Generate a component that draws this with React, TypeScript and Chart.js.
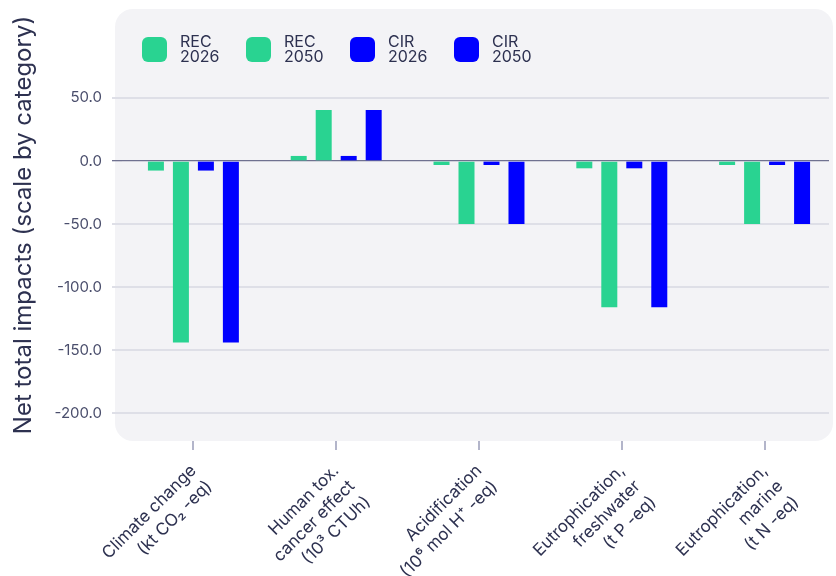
import { useEffect, useRef } from "react";
import { Chart, registerables } from "chart.js";

Chart.register(...registerables);

// ---- data ----
const categories: string[][] = [
  ["Climate change", "(kt CO₂ -eq)"],
  ["Human tox.", "cancer effect", "(10³ CTUh)"],
  ["Acidification", "(10⁶ mol H⁺ -eq)"],
  ["Eutrophication,", "freshwater", "(t P -eq)"],
  ["Eutrophication,", "marine", "(t N -eq)"],
];
const seriesNames = ["REC 2026", "REC 2050", "CIR 2026", "CIR 2050"];
const rec2026 = [-7.6, 4, -3.2, -5.8, -3.2];
const rec2050 = [-144, 40.5, -50, -116, -50];
const cir2026 = [-7.6, 4, -3.2, -5.8, -3.2];
const cir2050 = [-144, 40.5, -50, -116, -50];
const yTicks = [50, 0, -50, -100, -150, -200];
const yTitle = "Net total impacts (scale by category)";

// ---- styles ----
const GREEN = "#29d391";
const BLUE = "#0000ff";
const TEXT = "#2d3150";
const TICK_TEXT = "#4a4e6c";
const FONT = "Inter";

const panelPlugin = {
  id: "panelAndLegend",
  beforeDraw(chart: any) {
    const { ctx, chartArea: a } = chart;
    ctx.save();
    ctx.fillStyle = "#f3f3f6";
    ctx.beginPath();
    const x = a.left - 7;
    const w = a.right - 3 - x;
    ctx.roundRect(x, a.top, w, a.bottom - a.top, 18);
    ctx.fill();
    ctx.restore();
    ctx.save();
    ctx.beginPath();
    ctx.rect(0, 0, a.right - 7, chart.height);
    ctx.clip();
  },
  afterDraw(chart: any) {
    const { ctx, chartArea: a } = chart;
    ctx.restore();
    ctx.save();
    const x0 = a.left + 20;
    const boxTop = a.top + 28;
    chart.data.datasets.forEach((ds: any, i: number) => {
      const x = x0 + i * 104;
      ctx.fillStyle = ds.backgroundColor;
      ctx.beginPath();
      ctx.roundRect(x, boxTop, 25, 25, 6);
      ctx.fill();
      ctx.fillStyle = TEXT;
      ctx.font = `16px ${FONT}`;
      ctx.textAlign = "left";
      ctx.textBaseline = "alphabetic";
      const parts = String(ds.label).split(" ");
      ctx.fillText(parts[0], x + 38, a.top + 38);
      ctx.fillText(parts[1], x + 38, a.top + 53);
    });
    ctx.restore();
  },
};

export default function App() {
  const ref = useRef<HTMLCanvasElement | null>(null);
  useEffect(() => {
    if (!ref.current) return;
    const values = [rec2026, rec2050, cir2026, cir2050];
    const colors = [GREEN, GREEN, BLUE, BLUE];
    const chart = new Chart(ref.current, {
      type: "bar",
      data: {
        labels: categories,
        datasets: seriesNames.map((name, i) => ({
          label: name,
          data: values[i],
          backgroundColor: colors[i],
          borderWidth: 0,
          barPercentage: 0.64,
          categoryPercentage: 0.7,
        })),
      },
      options: {
        animation: false,
        responsive: false,
        devicePixelRatio: 1,
        layout: { padding: { top: 9, left: 0, right: 0, bottom: 0 } },
        plugins: {
          legend: { display: false },
          tooltip: { enabled: false },
          title: { display: false },
        },
        scales: {
          x: {
            offset: true,
            grid: {
              display: true,
              offset: false,
              drawOnChartArea: false,
              drawTicks: true,
              tickLength: 9,
              color: "#b3b5ca",
              lineWidth: 2,
            },
            border: { display: false },
            ticks: {
              minRotation: 45,
              maxRotation: 45,
              padding: 10,
              color: TEXT,
              font: { family: FONT, size: 17, lineHeight: 1.3 },
              autoSkip: false,
            },
            afterFit: (s: any) => {
              s.height = 135;
              s.paddingLeft = 0;
              s.paddingRight = 0;
            },
          },
          y: {
            min: -222,
            max: 120.5,
            afterBuildTicks: (s: any) => {
              s.ticks = yTicks.map((v) => ({ value: v }));
            },
            grid: {
              tickLength: 10,
              color: (c: any) => (c.tick && c.tick.value === 0 ? "#6f7190" : "#dedfe7"),
              lineWidth: (c: any) => (c.tick && c.tick.value === 0 ? 1.3 : 2),
            },
            border: { display: false },
            ticks: {
              padding: 10,
              color: TICK_TEXT,
              font: { family: FONT, size: 15 },
              callback: (v: any) => Number(v).toFixed(1),
            },
            title: {
              display: true,
              text: yTitle,
              color: TEXT,
              font: { family: FONT, size: 24, lineHeight: 1.2 },
              padding: { top: 9, bottom: 0 },
            },
            afterFit: (s: any) => {
              s.width = 122;
              s.paddingTop = 0;
              s.paddingBottom = 0;
            },
          },
        },
      },
      plugins: [panelPlugin],
    });
    return () => chart.destroy();
  }, []);
  return (
    <div style={{ position: "absolute", left: 0, top: 0, width: 836, height: 576, background: "#fff" }}>
      <canvas ref={ref} width={836} height={576} style={{ display: "block" }} />
    </div>
  );
}
